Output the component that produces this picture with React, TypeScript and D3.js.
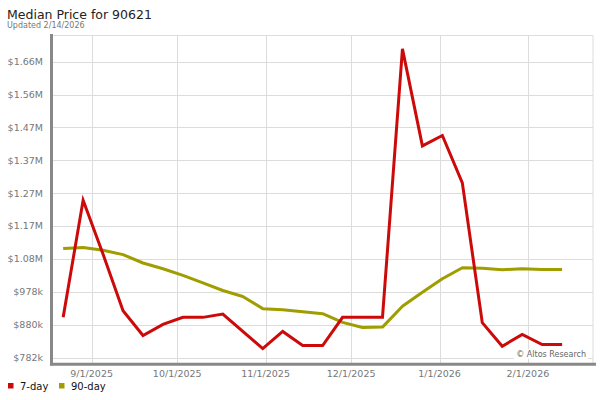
import React from "react";
import * as d3 from "d3";

const weekStarts: string[] = [
  "2025-08-22", "2025-08-29", "2025-09-05", "2025-09-12", "2025-09-19", "2025-09-26",
  "2025-10-03", "2025-10-10", "2025-10-17", "2025-10-24", "2025-10-31", "2025-11-07",
  "2025-11-14", "2025-11-21", "2025-11-28", "2025-12-05", "2025-12-12", "2025-12-19",
  "2025-12-26", "2026-01-02", "2026-01-09", "2026-01-16", "2026-01-23", "2026-01-30",
  "2026-02-06", "2026-02-13",
];

// values in $k
const sevenDay: number[] = [
  902, 1251, 1090, 922, 848, 881, 902, 902, 912, 860, 809, 860, 818,
  818, 902, 902, 902, 1702, 1413, 1444, 1303, 886, 816, 851, 821, 821,
];

const ninetyDay: number[] = [
  1107, 1110, 1102, 1089, 1064, 1047, 1027, 1005, 982, 964, 928, 925, 919,
  913, 887, 872, 873, 935, 977, 1017, 1050, 1048, 1044, 1047, 1045, 1045,
];

const yTicks: number[] = [782, 880, 978, 1076, 1174, 1272, 1370, 1468, 1566, 1664];
const yTickLabels: string[] = [
  "$782k", "$880k", "$978k", "$1.08M", "$1.17M", "$1.27M", "$1.37M", "$1.47M", "$1.56M", "$1.66M",
];

const xTicks: string[] = ["2025-09-01", "2025-10-01", "2025-11-01", "2025-12-01", "2026-01-01", "2026-02-01"];
const xTickLabels: string[] = ["9/1/2025", "10/1/2025", "11/1/2025", "12/1/2025", "1/1/2026", "2/1/2026"];

const seriesNames: string[] = ["7-day", "90-day"];
const seriesColors: string[] = ["#cc0a0a", "#a09d00"];

const parse = (s: string) => {
  const [y, m, d] = s.split("-").map(Number);
  return new Date(y, m - 1, d);
};

export default function App() {
  const W = 600;
  const H = 400;
  const left = 52;
  const right = 593;
  const top = 35.5;
  const bottom = 364;

  const x = d3
    .scaleTime()
    .domain([new Date(2025, 7, 18, 2), new Date(2026, 1, 23, 20)])
    .range([left, right]);
  const y = d3.scaleLinear().domain([763, 1742]).range([bottom, top]);

  const dates = weekStarts.map(parse);
  const line = d3
    .line<number>()
    .x((_, i) => x(dates[i]))
    .y((v) => y(v));

  const font = "'DejaVu Sans', Verdana, sans-serif";

  return (
    <svg
      width={W}
      height={H}
      style={{ position: "absolute", left: 0, top: 0, background: "#fff" }}
      fontFamily={font}
    >
      <rect x={0} y={0} width={W} height={H} fill="#fff" />
      <text x={7} y={18.5} fontSize={12.5} fill="#222">
        Median Price for 90621
      </text>
      <text x={7} y={28} fontSize={8} fill="#777">
        Updated 2/14/2026
      </text>

      {/* grid */}
      {yTicks.map((t) => (
        <line key={"h" + t} x1={left} x2={right} y1={Math.round(y(t)) + 0.5} y2={Math.round(y(t)) + 0.5} stroke="#dcdcdc" strokeWidth={1} />
      ))}
      <line x1={left} x2={right} y1={top} y2={top} stroke="#dcdcdc" strokeWidth={1} />
      {xTicks.map((t) => (
        <line key={"v" + t} x1={Math.round(x(parse(t))) + 0.5} x2={Math.round(x(parse(t))) + 0.5} y1={top} y2={bottom} stroke="#dcdcdc" strokeWidth={1} />
      ))}
      <line x1={right} x2={right} y1={top} y2={bottom} stroke="#dcdcdc" strokeWidth={1} />

      {/* watermark */}
      <rect x={514} y={349} width={74} height={10} fill="#fff" />
      <text x={586} y={357} fontSize={8} fill="#666" textAnchor="end">
        © Altos Research
      </text>

      {/* series */}
      <path d={line(ninetyDay) || ""} fill="none" stroke={seriesColors[1]} strokeWidth={3} strokeLinejoin="round" />
      <path d={line(sevenDay) || ""} fill="none" stroke={seriesColors[0]} strokeWidth={3} strokeLinejoin="miter" />

      {/* axes */}
      <line x1={51.5} x2={51.5} y1={34} y2={365.5} stroke="#888" strokeWidth={3} />
      <line x1={50} x2={596} y1={364.2} y2={364.2} stroke="#888" strokeWidth={3} />

      {yTicks.map((t, i) => (
        <text key={"yl" + t} x={43} y={y(t)} dy="0.35em" fontSize={9.5} fill="#777" textAnchor="end">
          {yTickLabels[i]}
        </text>
      ))}
      {xTicks.map((t, i) => (
        <text key={"xl" + t} x={x(parse(t))} y={377} fontSize={9.5} fill="#777" textAnchor="middle">
          {xTickLabels[i]}
        </text>
      ))}

      {/* legend */}
      {seriesNames.map((n, i) => (
        <g key={n} transform={`translate(${i === 0 ? 8 : 59},0)`}>
          <rect x={0} y={383} width={5.5} height={5.5} fill={seriesColors[i]} />
          <text x={12} y={389.5} fontSize={10} fill="#111">
            {n}
          </text>
        </g>
      ))}
    </svg>
  );
}
